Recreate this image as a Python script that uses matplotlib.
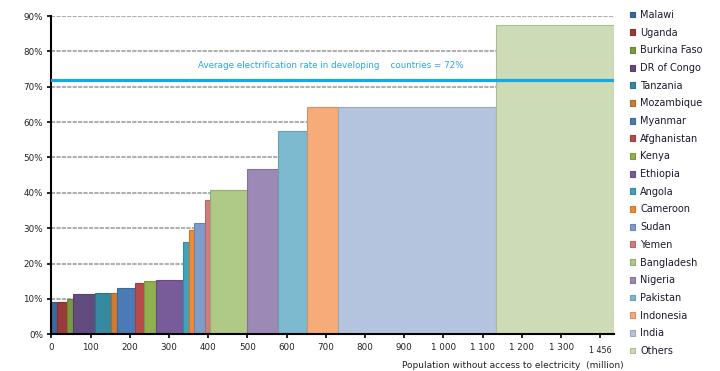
import numpy as np
import matplotlib
matplotlib.use("Agg")
import matplotlib.pyplot as plt
from matplotlib import colors as mcolors

countries = ["Malawi", "Uganda", "Burkina Faso", "DR of Congo", "Tanzania",
             "Mozambique", "Myanmar", "Afghanistan", "Kenya", "Ethiopia",
             "Angola", "Cameroon", "Sudan", "Yemen", "Bangladesh", "Nigeria",
             "Pakistan", "Indonesia", "India", "Others"]
# population without access (million) and electrification rate (%)
population = [15, 26, 15, 55, 40, 17, 45, 23, 31, 68,
              16, 13, 28, 13, 93, 81, 73, 79, 403, 301]
rate = [9.0, 9.0, 10.0, 11.3, 11.6, 11.6, 13.1, 14.5, 15.1, 15.4,
        26.0, 29.5, 31.6, 38.1, 40.8, 46.6, 57.6, 64.3, 64.3, 87.4]
bar_colors = ["#3C67A1", "#9A3B39", "#7A9940", "#624C7F", "#368A9F",
              "#CF7B32", "#4A7BB6", "#B84B49", "#90B050", "#785B99",
              "#42A2BC", "#F08A32", "#7E9DCB", "#D17D7B", "#AFC987",
              "#9C89B5", "#7DBAD0", "#F7AB78", "#B5C4DE", "#CEDBB7"]

avg_rate = 72
xticks = [0, 100, 200, 300, 400, 500, 600, 700, 800, 900, 1000, 1100, 1200, 1300, 1400]
xtick_labels = ["0", "100", "200", "300", "400", "500", "600", "700", "800",
                "900", "1 000", "1 100", "1 200", "1 300", "1 456"]
yticks = [0, 10, 20, 30, 40, 50, 60, 70, 80, 90]


def darken(c, f=0.85):
    r, g, b = mcolors.to_rgb(c)
    return (r * f, g * f, b * f)


fig = plt.figure(figsize=(7.2, 3.71), dpi=100)
ax = fig.add_axes([51.3 / 720, 1 - 334.3 / 371, (614 - 51.3) / 720, (334.3 - 16) / 371])

# gridlines behind the bars
ax.hlines(yticks[1:], 0, sum(population), color="#B0B0B0", lw=1.5,
          linestyles=[(0, (2, 0.6))], zorder=1)

lefts = np.concatenate([[0], np.cumsum(population)[:-1]])
bars = ax.bar(lefts, rate, width=population, align="edge", color=bar_colors,
              edgecolor=[darken(c) for c in bar_colors], linewidth=0.8, zorder=2)

ax.set_xlim(0, sum(population))
ax.set_ylim(0, 90)

ax.axhline(avg_rate, color="#16A9E1", lw=2.3, zorder=3)
ax.text(713, 76, "Average electrification rate in developing    countries = 72%",
        color="#2AA6E0", fontsize=6.3, ha="center", va="center", zorder=4)

ax.set_yticks(yticks)
ax.set_yticklabels([f"{v}%" for v in yticks], fontsize=6.3, color="#222222")
ax.set_xticks(xticks)
ax.set_xticklabels(xtick_labels, fontsize=6.3, color="#222222")
last = ax.get_xticklabels()[-1]
last.set_fontsize(5.8)
last.set_y(-0.01)
ax.tick_params(axis="both", length=3, width=1.2, color="black", pad=3)

for s in ["top", "right"]:
    ax.spines[s].set_visible(False)
ax.spines["left"].set_linewidth(1.5)
ax.spines["bottom"].set_linewidth(1.5)

fig.text(513 / 720, 1 - 365 / 371, "Population without access to electricity  (million)",
         fontsize=6.5, color="#222222", ha="center", va="center")

fig.legend(bars, countries, loc="upper left", bbox_to_anchor=(630 / 720, 1 - 10 / 371),
           frameon=False, fontsize=7, handlelength=0.55, handleheight=0.55,
           handletextpad=0.5, labelspacing=0.79, borderpad=0, borderaxespad=0,
           labelcolor="#1A1A2E")

fig.savefig("out.png", dpi=100)
